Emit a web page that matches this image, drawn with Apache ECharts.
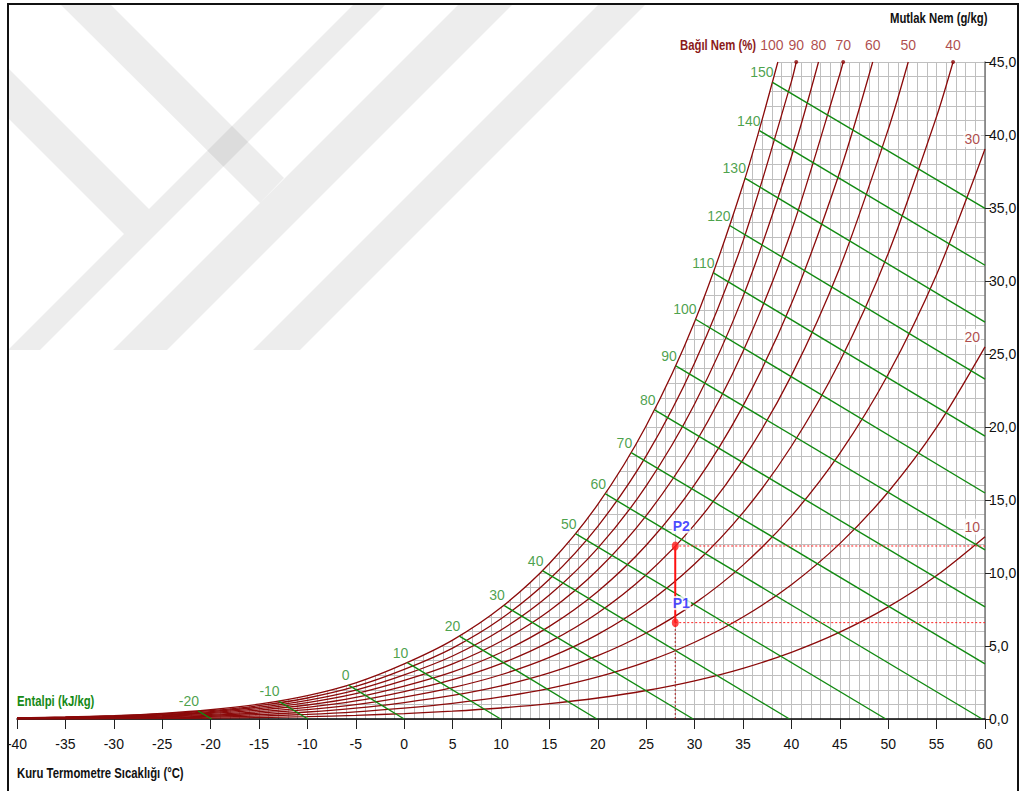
<!DOCTYPE html>
<html><head><meta charset="utf-8">
<script src="https://cdn.jsdelivr.net/npm/echarts@6/dist/echarts.min.js"></script>
<style>html,body{margin:0;padding:0;background:#fff}#c{width:1022px;height:791px}</style>
</head><body><div id="c"></div>
<script>
// ---- data ----
const temps = [-40,-35,-30,-25,-20,-15,-10,-5,0,5,10,15,20,25,30,35,40,45,50,55,60];
const rhLevels = [100,90,80,70,60,50,40,30,20,10];
const rh100 = [0.079,0.137,0.234,0.389,0.635,1.016,1.600,2.476,3.775,5.403,7.632,10.65,14.70,20.09,27.21,36.59];
const rh90  = [0.071,0.123,0.210,0.350,0.571,0.914,1.439,2.228,3.395,4.859,6.861,9.569,13.20,18.02,24.38,32.73,43.66];
const rh80  = [0.063,0.110,0.187,0.311,0.507,0.812,1.279,1.979,3.016,4.315,6.091,8.491,11.70,15.97,21.58,28.93,38.51];
const rh70  = [0.055,0.096,0.163,0.272,0.444,0.711,1.119,1.731,2.638,3.772,5.323,7.417,10.22,13.93,18.80,25.17,33.44,44.16];
const rh60  = [0.047,0.082,0.140,0.233,0.381,0.609,0.958,1.483,2.259,3.231,4.557,6.347,8.737,11.90,16.05,21.45,28.44,37.47];
const rh50  = [0.039,0.069,0.117,0.194,0.317,0.508,0.798,1.236,1.882,2.690,3.793,5.280,7.264,9.884,13.31,17.77,23.52,30.91,40.38];
const rh40  = [0.032,0.055,0.093,0.155,0.254,0.406,0.638,0.988,1.504,2.150,3.031,4.217,5.798,7.882,10.61,14.13,18.68,24.49,31.89,41.27];
const rh30  = [0.024,0.041,0.070,0.117,0.190,0.304,0.479,0.741,1.128,1.611,2.270,3.157,4.338,5.893,7.920,10.54,13.90,18.19,23.61,30.45,39.04];
const rh20  = [0.016,0.027,0.047,0.078,0.127,0.203,0.319,0.494,0.751,1.073,1.512,2.101,2.885,3.916,5.258,6.988,9.200,12.01,15.55,19.97,25.49];
const rh10  = [0.008,0.014,0.023,0.039,0.063,0.101,0.160,0.247,0.375,0.536,0.755,1.049,1.439,1.952,2.618,3.475,4.566,5.946,7.677,9.829,12.49];
// temperature where each curve leaves the top of the chart (45 g/kg); null = runs to 60 °C
const rhTopTemp = [38.6,40.5,42.8,45.35,48.4,52.07,56.7,null,null,null];
const rhTopMax = 45;
const rhDot = [false,true,false,true,false,false,true,false,false,false];

const enthalpy = [-20,-10,0,10,20,30,40,50,60,70,80,90,100,110,120,130,140,150];
const hStartT = [-21.3,-12.97,-5.75,0.32,5.7,10.3,14.28,17.7,20.76,23.45,25.87,28.06,30.1,31.95,33.62,35.2,36.7,38.05];
const hStartW = [0.56,1.22,2.32,3.86,5.68,7.78,10.16,12.70,15.43,18.25,21.17,24.18,27.38,30.55,33.8,37.05,40.3,43.6];
const hEndT = [-19.9,-9.95,0,9.96,19.9,29.85,39.8,49.75,59.7,60,60,60,60,60,60,60,60,60];
const hEndW = [0,0,0,0,0,0,0,0,0,3.78,7.68,11.58,15.48,19.38,23.28,27.18,31.08,34.98];

const pointNames = ['P1','P2'];
const pointT = [28,28];
const pointW = [6.6,11.85];

const xTicks = {min:-40, max:60, step:5};
const yTicks = {min:0, max:45, step:5};

// ---- chart ----
const FF = "'Liberation Sans',Arial,sans-serif";
const RED = '#8b0a0a', RHTXT = '#9a1c1c', GREEN = '#118a11', GTXT = '#1c8a1c', GRID = '#bfbfbf';
const rhArrays = [rh100,rh90,rh80,rh70,rh60,rh50,rh40,rh30,rh20,rh10];

const series = [];
rhArrays.forEach((arr, i) => {
  const data = arr.map((w, j) => [temps[j], w]);
  if (rhTopTemp[i] !== null) data.push([rhTopTemp[i], rhTopMax]);
  series.push({
    type:'line', name:'RH'+rhLevels[i], data, smooth:0.3,
    showSymbol:false, symbol:'none', silent:true, animation:false,
    lineStyle:{color:RED, width:1.3}, z:3
  });
  if (i === 0) series.push({
    type:'line', name:'satfill', data, smooth:0.3, showSymbol:false, symbol:'none', silent:true, animation:false,
    lineStyle:{width:0, opacity:0}, areaStyle:{color:'#ffffff', opacity:1, origin:'end'}, z:1
  });
});
// top dots
series.push({
  type:'scatter', silent:true, animation:false, z:4, symbolSize:4,
  itemStyle:{color:RED},
  data: rhLevels.map((v,i)=> rhDot[i] ? [rhTopTemp[i], rhTopMax] : null).filter(d=>d)
});
// RH labels (top)
const topLabelData = [];
rhLevels.forEach((v,i)=>{
  if (rhTopTemp[i] === null) return;
  const item = {value:[rhTopTemp[i], rhTopMax], name:String(v)};
  if (i === 0) item.label = {position:[-6,-17]};
  topLabelData.push(item);
});
series.push({
  type:'scatter', silent:true, animation:false, z:6, symbolSize:0,
  data: topLabelData,
  label:{show:true, formatter:p=>p.name, position:[0,-17], align:'center', verticalAlign:'middle',
         color:RHTXT, fontSize:14, fontFamily:FF}
});
// RH labels (right edge)
const sideLabelData = [];
rhLevels.forEach((v,i)=>{
  if (rhTopTemp[i] !== null) return;
  sideLabelData.push({value:[temps[temps.length-1], rhArrays[i][rhArrays[i].length-1]], name:String(v)});
});
series.push({
  type:'scatter', silent:true, animation:false, z:6, symbolSize:0,
  data: sideLabelData,
  label:{show:true, formatter:p=>p.name, position:[-4,-10], align:'right', verticalAlign:'middle',
         color:RHTXT, fontSize:14, fontFamily:FF, backgroundColor:'#fff', padding:[1,1]}
});
// enthalpy lines
enthalpy.forEach((h, i) => {
  series.push({
    type:'line', name:'h'+h, data:[[hStartT[i],hStartW[i]],[hEndT[i],hEndW[i]]],
    showSymbol:false, symbol:'none', silent:true, animation:false,
    lineStyle:{color:GREEN, width:1.4}, z:3
  });
});
series.push({
  type:'scatter', silent:true, animation:false, z:6, symbolSize:0,
  data: enthalpy.map((h,i)=>({value:[hStartT[i],hStartW[i]], name:String(h)})),
  label:{show:true, formatter:p=>p.name, position:[1,-3], align:'right', verticalAlign:'bottom',
         color:GTXT, fontSize:14, fontFamily:FF}
});
// process points
const P1 = [pointT[0], pointW[0]], P2 = [pointT[1], pointW[1]];
const dotted = {color:'#ff2020', width:1, type:[2,2]};
series.push({type:'line', data:[[P1[0],0],P1], symbol:'none', silent:true, animation:false, lineStyle:{color:'#b02020', width:1, type:[2,2]}, z:5});
series.push({type:'line', data:[P1,[xTicks.max,P1[1]]], symbol:'none', silent:true, animation:false, lineStyle:dotted, z:5});
series.push({type:'line', data:[P2,[xTicks.max,P2[1]]], symbol:'none', silent:true, animation:false, lineStyle:dotted, z:5});
series.push({type:'line', data:[P1,P2], symbol:'none', silent:true, animation:false, lineStyle:{color:'#ff1010', width:2}, z:5});
series.push({
  type:'scatter', silent:true, animation:false, z:7, symbol:'circle', symbolSize:[7,9],
  itemStyle:{color:'#ff1a1a'},
  data: pointNames.map((n,i)=>({value:[pointT[i],pointW[i]], name:n})),
  label:{show:true, formatter:p=>p.name, position:[0,-15], align:'left', verticalAlign:'middle',
         color:'#1c1cff', fontSize:14, fontWeight:'bold', fontFamily:FF, backgroundColor:'#fff', padding:[0,1]}
});

const SX = 0.81;
const title = (txt, x, y, color) => ({type:'text', z:100, x, y, scaleX:SX, silent:true,
  style:{text:txt, font:"bold 14px "+FF, fill:color, textVerticalAlign:'middle', verticalAlign:'middle'}});
// faint background watermark (decoration, pixel shapes)
const wmShapes = [
  [[8,350],[40,350],[386,4],[354,4]],
  [[8,68],[8,118],[124,234],[149,209]],
  [[113,350],[167,350],[513,4],[459,4]],
  [[60,4],[110,4],[284,178],[260,203]],
  [[253,350],[300,350],[646,4],[599,4]]
];
const wmGraphics = wmShapes.map(pts => ({type:'polygon', z:2, silent:true, shape:{points:pts}, style:{fill:'rgba(0,0,0,0.07)'}}));
const option = {
  backgroundColor:'#ffffff',
  animation:false,
  grid:{left:17, right:37, top:62, bottom:72, containLabel:false},
  xAxis:{
    type:'value', min:xTicks.min, max:xTicks.max, interval:xTicks.step,
    axisLine:{show:true, onZero:false, lineStyle:{color:'#000', width:1.5}},
    axisTick:{show:true, length:10, lineStyle:{color:'#222', width:1}},
    axisLabel:{color:'#111', fontSize:14, fontFamily:FF, margin:18},
    splitLine:{show:true, lineStyle:{color:GRID, width:1}},
    minorTick:{show:true, splitNumber:5, length:0},
    minorSplitLine:{show:true, lineStyle:{color:GRID, width:1}}
  },
  yAxis:{
    type:'value', position:'right', min:yTicks.min, max:yTicks.max, interval:yTicks.step,
    axisLine:{show:true, onZero:false, lineStyle:{color:'#777', width:1.5}},
    axisTick:{show:true, length:6, lineStyle:{color:'#222', width:1}},
    axisLabel:{color:'#111', fontSize:14, fontFamily:FF, margin:4, formatter:v=>v.toFixed(1).replace('.',',')},
    splitLine:{show:true, lineStyle:{color:GRID, width:1}},
    minorTick:{show:true, splitNumber:5, length:0},
    minorSplitLine:{show:true, lineStyle:{color:GRID, width:1}}
  },
  graphic: wmGraphics.concat([
    {type:'rect', z:100, silent:true, shape:{x:8,y:4,width:1010,height:800}, style:{fill:'none', stroke:'#111', lineWidth:2}},
    title('Mutlak Nem (g/kg)', 890, 18, '#111'),
    title('Bağıl Nem (%)', 680, 45, '#8b1a1a'),
    title('Entalpi (kJ/kg)', 17, 701, '#168a16'),
    title('Kuru Termometre Sıcaklığı (°C)', 17, 773, '#111')
  ]),
  series
};
const chart = echarts.init(document.getElementById('c'), null, {renderer:'svg'});
chart.setOption(option);
</script></body></html>
